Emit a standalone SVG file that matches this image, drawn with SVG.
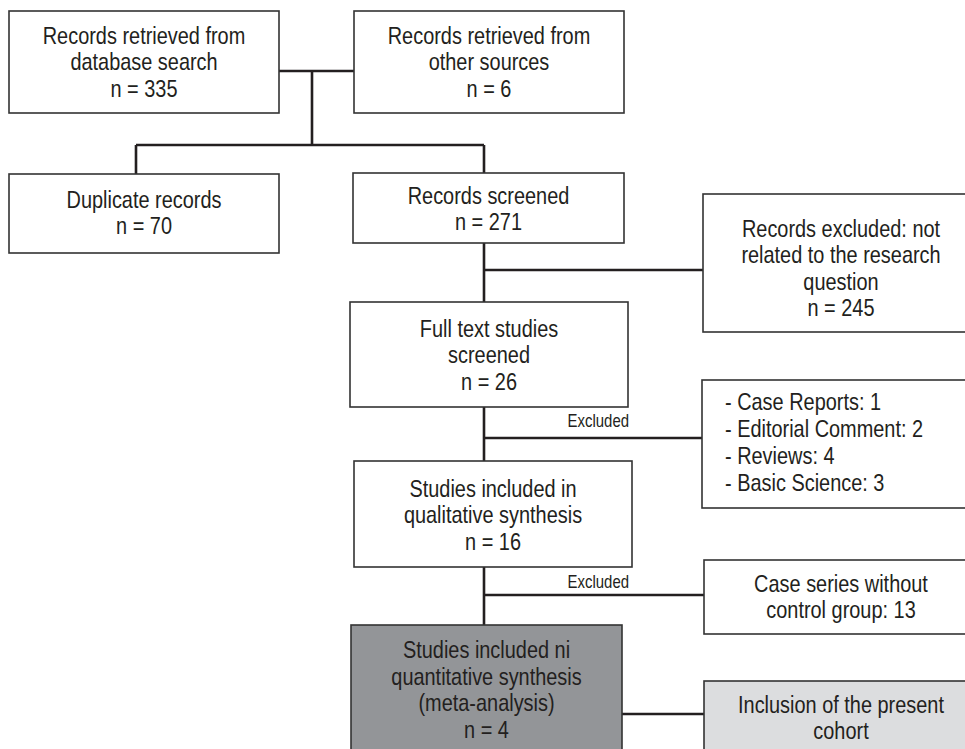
<svg xmlns="http://www.w3.org/2000/svg" width="965" height="749" viewBox="0 0 965 749">
<style>
.box{fill:#ffffff;stroke:#333333;stroke-width:1.6}
.dark{fill:#939598}
.light{fill:#dcdddf}
.t{font-family:"Liberation Sans",Arial,sans-serif;font-size:24px;fill:#231f20;text-anchor:middle}
.l{text-anchor:start}
.s{font-family:"Liberation Sans",Arial,sans-serif;font-size:18px;fill:#231f20;text-anchor:end}
.c{fill:none;stroke:#231f20;stroke-width:2.6}
</style>
<rect x="0" y="0" width="965" height="749" fill="#ffffff"/>
<g id="connectors">
<path class="c" d="M279,71H354M312,71V145M136,145H484M136,145V174M484,145V173"/>
<path class="c" d="M484,243V302M484,270H703"/>
<path class="c" d="M484,407V461M484,438H702"/>
<path class="c" d="M484,567V625M484,595H704"/>
<path class="c" d="M622,714H704"/>
<text class="s" transform="translate(629 0) scale(0.83 1)" x="0" y="427">Excluded</text>
<text class="s" transform="translate(629 0) scale(0.83 1)" x="0" y="588">Excluded</text>
</g>
<g id="db">
<rect class="box" x="9" y="11" width="270" height="102"/>
<g transform="translate(144 0) scale(0.83 1)">
<text class="t" x="0" y="44">Records retrieved from</text>
<text class="t" x="0" y="70">database search</text>
<text class="t" x="0" y="97">n = 335</text>
</g>
</g>
<g id="other">
<rect class="box" x="354" y="11" width="270" height="102"/>
<g transform="translate(489 0) scale(0.83 1)">
<text class="t" x="0" y="44">Records retrieved from</text>
<text class="t" x="0" y="70">other sources</text>
<text class="t" x="0" y="97">n = 6</text>
</g>
</g>
<g id="dup">
<rect class="box" x="9" y="174" width="270" height="79"/>
<g transform="translate(144 0) scale(0.83 1)">
<text class="t" x="0" y="208">Duplicate records</text>
<text class="t" x="0" y="234">n = 70</text>
</g>
</g>
<g id="screened">
<rect class="box" x="353" y="173" width="271" height="70"/>
<g transform="translate(488.5 0) scale(0.83 1)">
<text class="t" x="0" y="204">Records screened</text>
<text class="t" x="0" y="230">n = 271</text>
</g>
</g>
<g id="excluded1">
<rect class="box" x="703" y="194" width="280" height="138"/>
<g transform="translate(841 0) scale(0.83 1)">
<text class="t" x="0" y="237">Records excluded: not</text>
<text class="t" x="0" y="263.5">related to the research</text>
<text class="t" x="0" y="290">question</text>
<text class="t" x="0" y="316.5">n = 245</text>
</g>
</g>
<g id="fulltext">
<rect class="box" x="350" y="302" width="278" height="105"/>
<g transform="translate(489 0) scale(0.83 1)">
<text class="t" x="0" y="337">Full text studies</text>
<text class="t" x="0" y="363">screened</text>
<text class="t" x="0" y="390">n = 26</text>
</g>
</g>
<g id="excluded2">
<rect class="box" x="702" y="380" width="280" height="128"/>
<g transform="translate(725 0) scale(0.83 1)">
<text class="t l" x="0" y="410">- Case Reports: 1</text>
<text class="t l" x="0" y="437">- Editorial Comment: 2</text>
<text class="t l" x="0" y="464">- Reviews: 4</text>
<text class="t l" x="0" y="491">- Basic Science: 3</text>
</g>
</g>
<g id="qual">
<rect class="box" x="354" y="461" width="278" height="106"/>
<g transform="translate(493 0) scale(0.83 1)">
<text class="t" x="0" y="497">Studies included in</text>
<text class="t" x="0" y="523">qualitative synthesis</text>
<text class="t" x="0" y="550">n = 16</text>
</g>
</g>
<g id="caseseries">
<rect class="box" x="704" y="560" width="280" height="74"/>
<g transform="translate(841 0) scale(0.83 1)">
<text class="t" x="0" y="592">Case series without</text>
<text class="t" x="0" y="618">control group: 13</text>
</g>
</g>
<g id="meta">
<rect class="box dark" x="351" y="625" width="271" height="140"/>
<g transform="translate(486.5 0) scale(0.83 1)">
<text class="t" x="0" y="658">Studies included ni</text>
<text class="t" x="0" y="685">quantitative synthesis</text>
<text class="t" x="0" y="711">(meta-analysis)</text>
<text class="t" x="0" y="738">n = 4</text>
</g>
</g>
<g id="inclusion">
<rect class="box light" x="704" y="681" width="280" height="84"/>
<g transform="translate(841 0) scale(0.83 1)">
<text class="t" x="0" y="713">Inclusion of the present</text>
<text class="t" x="0" y="739">cohort</text>
</g>
</g>
</svg>
